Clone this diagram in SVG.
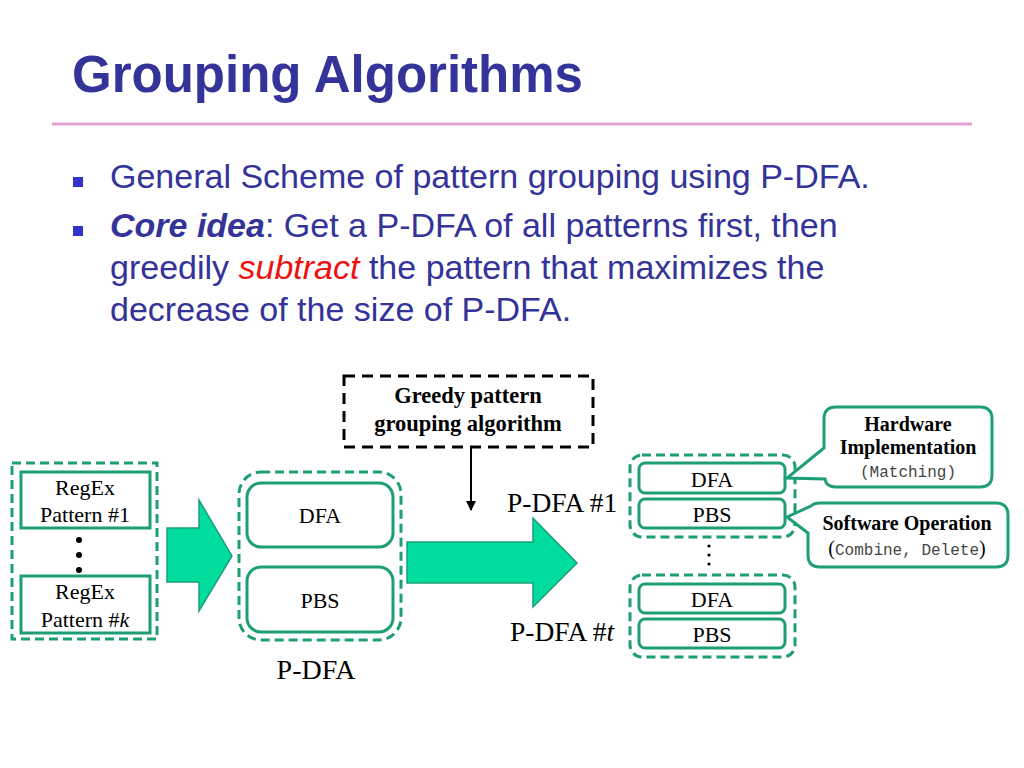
<svg xmlns="http://www.w3.org/2000/svg" width="1024" height="768" viewBox="0 0 1024 768">
<defs>
<style>
.title{font-family:"Liberation Sans",Arial,sans-serif;font-weight:bold;font-size:51px;fill:#333399}
.body{font-family:"Liberation Sans",Arial,sans-serif;font-size:34px;fill:#333399}
.serif{font-family:"Liberation Serif","Times New Roman",serif;fill:#000}
.mono{font-family:"Liberation Mono","Courier New",monospace;fill:#444}
.gdash{fill:none;stroke:#1d9e77;stroke-width:3;stroke-dasharray:9 5}
.gbox{fill:#fff;stroke:#1d9e77;stroke-width:3}
.garrow{fill:#00dd9f;stroke:#1d9e77;stroke-width:1.5}
.bullet{fill:#3333cc}
</style>
<marker id="ah" viewBox="0 0 10 10" refX="9" refY="5" markerWidth="5" markerHeight="5" orient="auto" markerUnits="strokeWidth">
<path d="M0,0 L10,5 L0,10 z" fill="#000"/>
</marker>
</defs>
<rect width="1024" height="768" fill="#fff"/>

<g id="header">
<text class="title" x="72" y="92">Grouping Algorithms</text>
<line x1="52" y1="124" x2="972" y2="124" stroke="#e2a2d2" stroke-width="3"/>
<rect class="bullet" x="73" y="177" width="10" height="10"/>
<text class="body" x="110" y="188">General Scheme of pattern grouping using P-DFA.</text>
<rect class="bullet" x="73" y="226" width="10" height="10"/>
<text class="body" x="110" y="237"><tspan font-weight="bold" font-style="italic">Core idea</tspan>: Get a P-DFA of all patterns first, then</text>
<text class="body" x="110" y="279">greedily <tspan font-style="italic" fill="#ee1111">subtract</tspan> the pattern that maximizes the</text>
<text class="body" x="110" y="321">decrease of the size of P-DFA.</text>
</g>

<g id="regex-group">
<rect class="gdash" x="12" y="463" width="145" height="176"/>
<rect class="gbox" x="21" y="472" width="129" height="56"/>
<text class="serif" font-size="22" text-anchor="middle" x="85" y="495">RegEx</text>
<text class="serif" font-size="22" text-anchor="middle" x="85" y="522">Pattern #1</text>
<circle cx="79" cy="540" r="3" fill="#000"/>
<circle cx="79" cy="555" r="3" fill="#000"/>
<circle cx="79" cy="570" r="3" fill="#000"/>
<rect class="gbox" x="21" y="576" width="129" height="57"/>
<text class="serif" font-size="22" text-anchor="middle" x="85" y="599">RegEx</text>
<text class="serif" font-size="22" text-anchor="middle" x="85" y="627">Pattern #<tspan font-style="italic">k</tspan></text>
</g>

<g id="pdfa">
<rect class="gdash" x="239" y="472" width="162" height="168" rx="22"/>
<rect class="gbox" x="247" y="483" width="146" height="64" rx="14"/>
<text class="serif" font-size="22" text-anchor="middle" x="320" y="523">DFA</text>
<rect class="gbox" x="247" y="567" width="146" height="65" rx="14"/>
<text class="serif" font-size="22" text-anchor="middle" x="320" y="608">PBS</text>
<text class="serif" font-size="28" text-anchor="middle" x="316" y="679">P-DFA</text>
</g>

<g id="greedy">
<rect x="344" y="376" width="249" height="71" fill="none" stroke="#000" stroke-width="3" stroke-dasharray="11 7"/>
<text class="serif" font-size="22.5" font-weight="bold" text-anchor="middle" x="468" y="403">Greedy pattern</text>
<text class="serif" font-size="22.5" font-weight="bold" text-anchor="middle" x="468" y="431">grouping algorithm</text>
</g>

<g id="pdfa1">
<text class="serif" font-size="27.5" x="507" y="512">P-DFA #1</text>
<rect class="gdash" x="630" y="455" width="165" height="82" rx="12"/>
<rect class="gbox" x="639" y="463" width="146" height="30" rx="6"/>
<text class="serif" font-size="22" text-anchor="middle" x="712" y="487">DFA</text>
<rect class="gbox" x="639" y="499" width="146" height="29" rx="6"/>
<text class="serif" font-size="22" text-anchor="middle" x="712" y="522">PBS</text>
</g>

<g id="ellipsis">
<circle cx="709" cy="546" r="1.6" fill="#000"/>
<circle cx="709" cy="555" r="1.6" fill="#000"/>
<circle cx="709" cy="564" r="1.6" fill="#000"/>
</g>

<g id="pdfat">
<text class="serif" font-size="27.5" x="510" y="641">P-DFA #<tspan font-style="italic">t</tspan></text>
<rect class="gdash" x="630" y="575" width="165" height="82" rx="12"/>
<rect class="gbox" x="639" y="584" width="146" height="29" rx="6"/>
<text class="serif" font-size="22" text-anchor="middle" x="712" y="607">DFA</text>
<rect class="gbox" x="639" y="619" width="146" height="29" rx="6"/>
<text class="serif" font-size="22" text-anchor="middle" x="712" y="642">PBS</text>
</g>

<g id="hardware-callout">
<path class="gbox" d="M836,407 H980 Q992,407 992,419 V475 Q992,487 980,487 H836 Q826,487 825,479 L787,478 L824,448 V419 Q824,407 836,407 Z"/>
<text class="serif" font-size="20" font-weight="bold" text-anchor="middle" x="908" y="431">Hardware</text>
<text class="serif" font-size="20" font-weight="bold" text-anchor="middle" x="908" y="454">Implementation</text>
<text class="mono" font-size="16" text-anchor="middle" x="908" y="477">(Matching)</text>
</g>

<g id="software-callout">
<path class="gbox" d="M820,503 H996 Q1008,503 1008,515 V555 Q1008,567 996,567 H820 Q808,567 808,555 V533 L787,517 L811,506 Q814,503 820,503 Z"/>
<text class="serif" font-size="20" font-weight="bold" text-anchor="middle" x="907" y="530">Software Operation</text>
<text text-anchor="middle" x="907" y="555"><tspan class="serif" font-size="20">(</tspan><tspan class="mono" font-size="16">Combine, Delete</tspan><tspan class="serif" font-size="20">)</tspan></text>
</g>

<g id="connectors">
<polygon class="garrow" points="167,528 199,528 199,500 232,556 199,611 199,582 167,582"/>
<polygon class="garrow" points="407,542 533,542 533,518 577,563 533,607 533,583 407,583"/>
<line x1="471" y1="447" x2="471" y2="510" stroke="#000" stroke-width="2" marker-end="url(#ah)"/>
</g>
</svg>
